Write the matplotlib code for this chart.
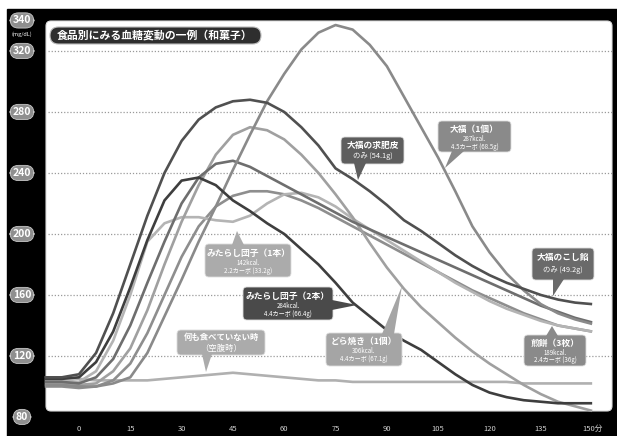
import matplotlib
matplotlib.use("Agg")
import matplotlib.pyplot as plt
from matplotlib.patches import FancyBboxPatch, Polygon, Rectangle
from matplotlib.transforms import blended_transform_factory

plt.rcParams['font.family'] = ['Noto Sans CJK JP', 'DejaVu Sans']

# minutes after eating (every 5 min, from -10)
minutes = list(range(-10, 155, 5))

fasting  = [106, 106, 105, 104, 104, 104, 104, 105, 106, 107, 108, 109, 108, 107, 106, 105, 104,
            104, 103, 103, 103, 103, 103, 103, 103, 103, 103, 103, 102, 102, 102, 102, 102]
daifuku  = [101, 101, 100, 100, 102, 106, 122, 146, 170, 195, 218, 242, 265, 287, 305, 321, 332,
            337, 334, 324, 310, 290, 270, 250, 228, 205, 188, 174, 163, 154, 148, 144, 141]
gyuhi    = [106, 106, 108, 122, 148, 180, 212, 240, 261, 275, 283, 287, 288, 286, 280, 270, 258,
            243, 236, 228, 219, 209, 202, 194, 186, 179, 173, 168, 164, 160, 157, 155, 154]
mitarashi2 = [105, 105, 106, 116, 136, 165, 196, 222, 235, 237, 232, 222, 215, 207, 200, 190, 180,
              168, 155, 146, 137, 130, 124, 116, 108, 101, 96, 93, 91, 90, 89, 89, 89]
dorayaki = [102, 102, 101, 102, 110, 125, 150, 180, 208, 232, 252, 265, 270, 268, 262, 252, 240,
            226, 211, 194, 178, 164, 152, 142, 132, 123, 115, 108, 101, 95, 90, 87, 84]
koshian  = [103, 103, 102, 106, 118, 140, 168, 195, 220, 237, 246, 248, 244, 238, 232, 226, 220,
            214, 208, 203, 198, 193, 188, 183, 178, 173, 168, 163, 158, 153, 149, 145, 142]
mitarashi1 = [104, 104, 103, 110, 130, 160, 195, 207, 211, 211, 209, 208, 212, 220, 226, 227, 224,
              218, 210, 203, 196, 189, 182, 175, 168, 162, 156, 151, 147, 143, 140, 138, 136]
senbei   = [100, 100, 99, 100, 104, 115, 135, 160, 185, 205, 218, 225, 228, 228, 226, 222, 217,
            211, 205, 199, 193, 187, 181, 175, 169, 163, 158, 153, 148, 144, 140, 138, 136]

series = [
    (fasting, '#b0b0b0'),
    (senbei, '#8e8e8e'),
    (mitarashi1, '#b4b4b4'),
    (dorayaki, '#a0a0a0'),
    (koshian, '#6e6e6e'),
    (daifuku, '#8a8a8a'),
    (mitarashi2, '#3e3e3e'),
    (gyuhi, '#505050'),
]

x_ticks = [0, 15, 30, 45, 60, 75, 90, 105, 120, 135, 150]
x_labels = ['0', '15', '30', '45', '60', '75', '90', '105', '120', '135', '150分']
y_pills = [80, 120, 160, 200, 240, 280, 320, 340]
grid_levels = [120, 160, 200, 240, 280, 320]

W, H = 617, 436
fig = plt.figure(figsize=(W / 100, H / 100), dpi=100, facecolor='white')

# background: black frame + white rounded panel (pixel coords)
bg = fig.add_axes([0, 0, 1, 1], zorder=0)
bg.set_xlim(0, W)
bg.set_ylim(H, 0)
bg.axis('off')
bg.add_patch(Rectangle((7, 9), W - 7, H - 9, color='black'))
bg.add_patch(FancyBboxPatch((46, 21), 566, 390, boxstyle='round,pad=0,rounding_size=5',
                            fc='white', ec='#dddddd', lw=0.8))

ax = fig.add_axes([42 / W, 1 - 415 / H, 570 / W, 395 / H], zorder=1)
ax.patch.set_alpha(0)
ax.set_xlim(-10.8, 155.8)
ax.set_ylim(81.3, 340.3)
for s in ax.spines.values():
    s.set_visible(False)
for g in grid_levels:
    ax.axhline(g, xmin=0.01, xmax=1, color='#9a9a9a', lw=0.9, ls=(0, (1, 1.5)), zorder=1)
for vals, col in series:
    ax.plot(minutes, vals, color=col, lw=1.9, solid_capstyle='butt', zorder=2)

ax.set_xticks(x_ticks)
ax.set_xticklabels(x_labels, color='#d0d0d0', fontsize=5.5)
ax.tick_params(axis='x', length=0, pad=7)
ax.set_yticks([])

# y pills on the black strip
tr = blended_transform_factory(fig.transFigure, ax.transData)
for v in y_pills:
    ax.text(22 / W, v, str(v), transform=tr, ha='center', va='center', color='white',
            fontsize=7.5, fontweight='bold', clip_on=False, zorder=5,
            bbox=dict(boxstyle='round,pad=0.25,rounding_size=0.8', fc='#8f8f8f', ec='#c8c8c8', lw=0.6))
fig.text(22 / W, 1 - 34 / H, '(mg/dL)', ha='center', va='center', color='white', fontsize=4)

# foreground overlay for title and callouts
fg = fig.add_axes([0, 0, 1, 1], zorder=3)
fg.set_xlim(0, W)
fg.set_ylim(H, 0)
fg.axis('off')
fg.patch.set_alpha(0)

fg.add_patch(FancyBboxPatch((50, 27), 211, 17, boxstyle='round,pad=0,rounding_size=8.5',
                            fc='#2e2e2e', ec='#bbbbbb', lw=0.8))
fg.text(155, 35.5, '食品別にみる血糖変動の一例（和菓子）', ha='center', va='center',
        color='white', fontsize=7.8, fontweight='bold')


def callout(x0, y0, w, h, base, tip, color, lines):
    fg.add_patch(FancyBboxPatch((x0, y0), w, h, boxstyle='round,pad=0,rounding_size=4',
                                fc=color, ec='#dddddd', lw=0.6))
    fg.add_patch(Polygon([base[0], base[1], tip], closed=True, fc=color, ec='none'))
    for i, (ty, txt, size) in enumerate(lines):
        fg.text(x0 + w / 2, ty, txt, ha='center', va='center', color='white', fontsize=size,
                fontweight='bold' if i == 0 else 'normal')


callout(341, 137, 63, 27, [(354, 163), (366, 163)], (358, 180), '#5e5e5e',
        [(145, '大福の求肥皮', 6.3), (156, 'のみ (54.1g)', 5.3)])
callout(438, 121, 73, 31, [(452, 151), (464, 151)], (445, 168), '#8a8a8a',
        [(129, '大福（1個）', 6.3), (139, '287kcal.', 4.4), (146.5, '4.5カーボ (68.5g)', 4.4)])
callout(205, 244, 86, 33, [(232, 245), (244, 245)], (237, 231), '#ababab',
        [(253, 'みたらし団子（1本）', 6.3), (263, '142kcal.', 4.4), (270.5, '2.2カーボ (33.2g)', 4.4)])
callout(243, 287, 90, 33, [(332, 300), (332, 310)], (357, 305), '#4a4a4a',
        [(296, 'みたらし団子（2本）', 6.3), (306, '284kcal.', 4.4), (313.5, '4.4カーボ (66.4g)', 4.4)])
callout(326, 333, 76, 33, [(382, 334), (394, 334)], (402, 286), '#a5a5a5',
        [(341, 'どら焼き（1個）', 6.3), (351, '306kcal.', 4.4), (358.5, '4.4カーボ (67.1g)', 4.4)])
callout(177, 330, 88, 25, [(202, 354), (212, 354)], (206, 372), '#ababab',
        [(337.5, '何も食べていない時', 6.0), (348, '（空腹時）', 6.0)])
callout(532, 248, 62, 32, [(553, 279), (564, 279)], (553, 296), '#6a6a6a',
        [(257, '大福のこし餡', 6.3), (270, 'のみ (49.2g)', 5.3)])
callout(524, 335, 62, 31, [(546, 336), (558, 336)], (552, 326), '#8a8a8a',
        [(343, '煎餅（3枚）', 6.3), (352.5, '189kcal.', 4.4), (360, '2.4カーボ (36g)', 4.4)])

fig.savefig('out.png', dpi=100, facecolor='white')
